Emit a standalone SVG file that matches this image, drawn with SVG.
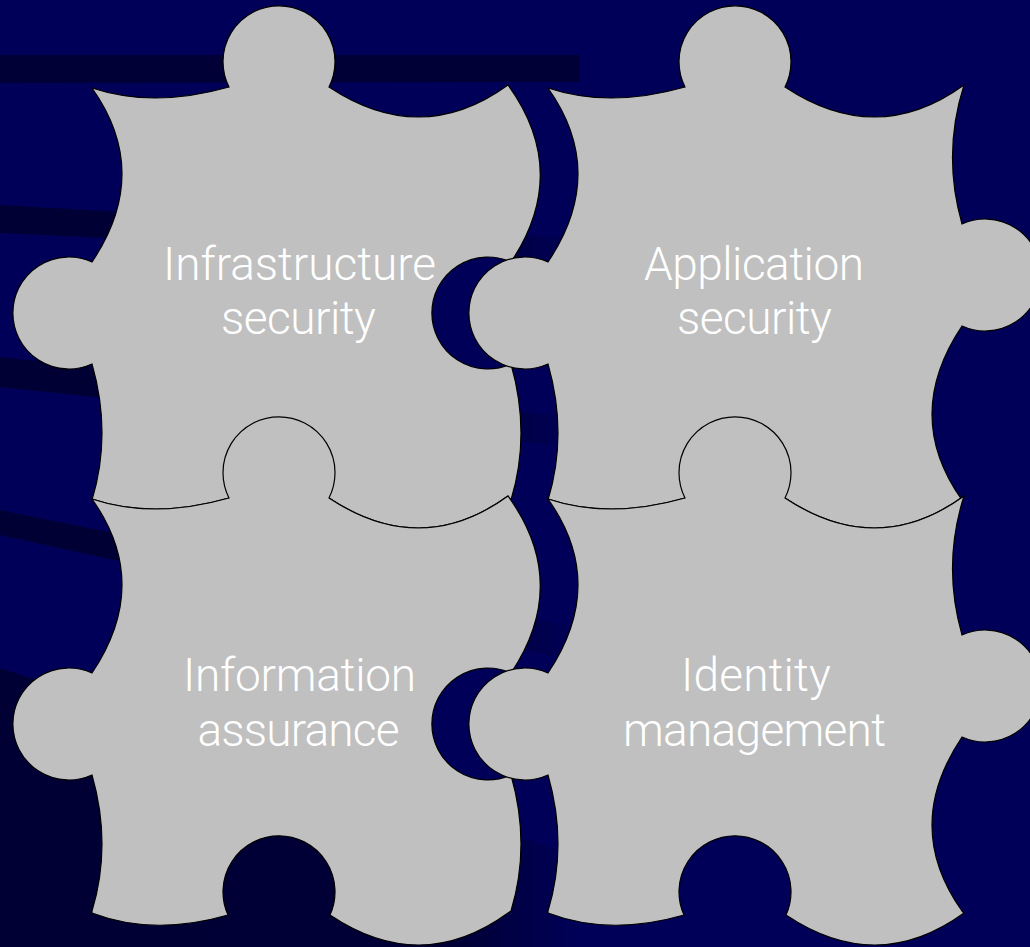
<svg xmlns="http://www.w3.org/2000/svg" width="1030" height="947" viewBox="0 0 1030 947">
<style>
.piece{fill:#C0C0C0;stroke:#000;stroke-width:1.2;stroke-linejoin:miter}
.lbl{font-family:Roboto,"Liberation Sans",Arial,sans-serif;font-weight:300;font-size:46px;fill:#FFFFFF;text-anchor:middle}
.band{fill:#000036}
</style>
<defs>
<linearGradient id="fadeR" x1="0" y1="0" x2="1" y2="0">
<stop offset="0" stop-color="#000034" stop-opacity="1"/>
<stop offset="0.8" stop-color="#000034" stop-opacity="0.9"/>
<stop offset="1" stop-color="#000034" stop-opacity="0"/>
</linearGradient>
</defs>
<g id="background">
<rect x="0" y="0" width="1030" height="947" fill="#000058"/>
<polygon class="band" points="0,55 580,55 580,82 0,83"/>
<polygon fill="url(#fadeR)" points="0,205 580,238 580,260 0,233"/>
<polygon fill="url(#fadeR)" points="0,357 580,418 580,448 0,387"/>
<polygon fill="url(#fadeR)" points="0,510 580,628 580,662 0,535"/>
<polygon fill="url(#fadeR)" points="0,668 580,857 580,947 0,947"/>
</g>
<g id="connectors"></g>
<g id="node-infrastructure">
<path class="piece" d="M92,88 Q153.5,108.5 229,87 A56,56 0 1 1 329,87 Q421,148 508,85 Q571,172 511,262 A56,56 0 1 0 511,364 Q531,434 511,500 L508,496 Q421,559 329,498 L229,498 Q153.5,519.5 92,499 L92,500 Q112,434 92,364 A56,56 0 1 1 92,262 Q152,172.5 92,88 Z"/>
<text class="lbl" x="299.5" y="280" textLength="273" lengthAdjust="spacing">Infrastructure</text>
<text class="lbl" x="298.5" y="334" textLength="155" lengthAdjust="spacing">security</text>
</g>
<g id="node-application">
<path class="piece" d="M548,88 Q609.5,108.5 685,87 A56,56 0 1 1 785,87 Q877,148 964,85 Q942,154 962,224 A56,56 0 1 1 962,326 Q902,415.5 962,500 L964,496 Q877,559 785,498 L685,498 Q609.5,519.5 548,499 L548,500 Q568,434 548,364 A56,56 0 1 1 548,262 Q608,172.5 548,88 Z"/>
<text class="lbl" x="754" y="280" textLength="220" lengthAdjust="spacing">Application</text>
<text class="lbl" x="754.5" y="334" textLength="155" lengthAdjust="spacing">security</text>
</g>
<g id="node-information">
<path class="piece" d="M92,499 Q153.5,519.5 229,498 A56,56 0 1 1 329,498 Q421,559 508,496 Q571,583 511,673 A56,56 0 1 0 511,775 Q531,845 511,911 L508,913 Q421,976 330,915 A56,56 0 1 0 228,915 Q153.5,936.5 92,913 L92,911 Q112,845 92,775 A56,56 0 1 1 92,673 Q152,583.5 92,499 Z"/>
<text class="lbl" x="299.5" y="691" textLength="233" lengthAdjust="spacing">Information</text>
<text class="lbl" x="298.5" y="746" textLength="202" lengthAdjust="spacing">assurance</text>
</g>
<g id="node-identity">
<path class="piece" d="M548,499 Q609.5,519.5 685,498 A56,56 0 1 1 785,498 Q877,559 964,496 Q942,565 962,635 A56,56 0 1 1 962,737 Q902,826.5 962,911 L964,913 Q877,976 786,915 A56,56 0 1 0 684,915 Q609.5,936.5 548,913 L548,911 Q568,845 548,775 A56,56 0 1 1 548,673 Q608,583.5 548,499 Z"/>
<text class="lbl" x="756" y="691" textLength="150" lengthAdjust="spacing">Identity</text>
<text class="lbl" x="754.5" y="746" textLength="263" lengthAdjust="spacing">management</text>
</g>
</svg>
